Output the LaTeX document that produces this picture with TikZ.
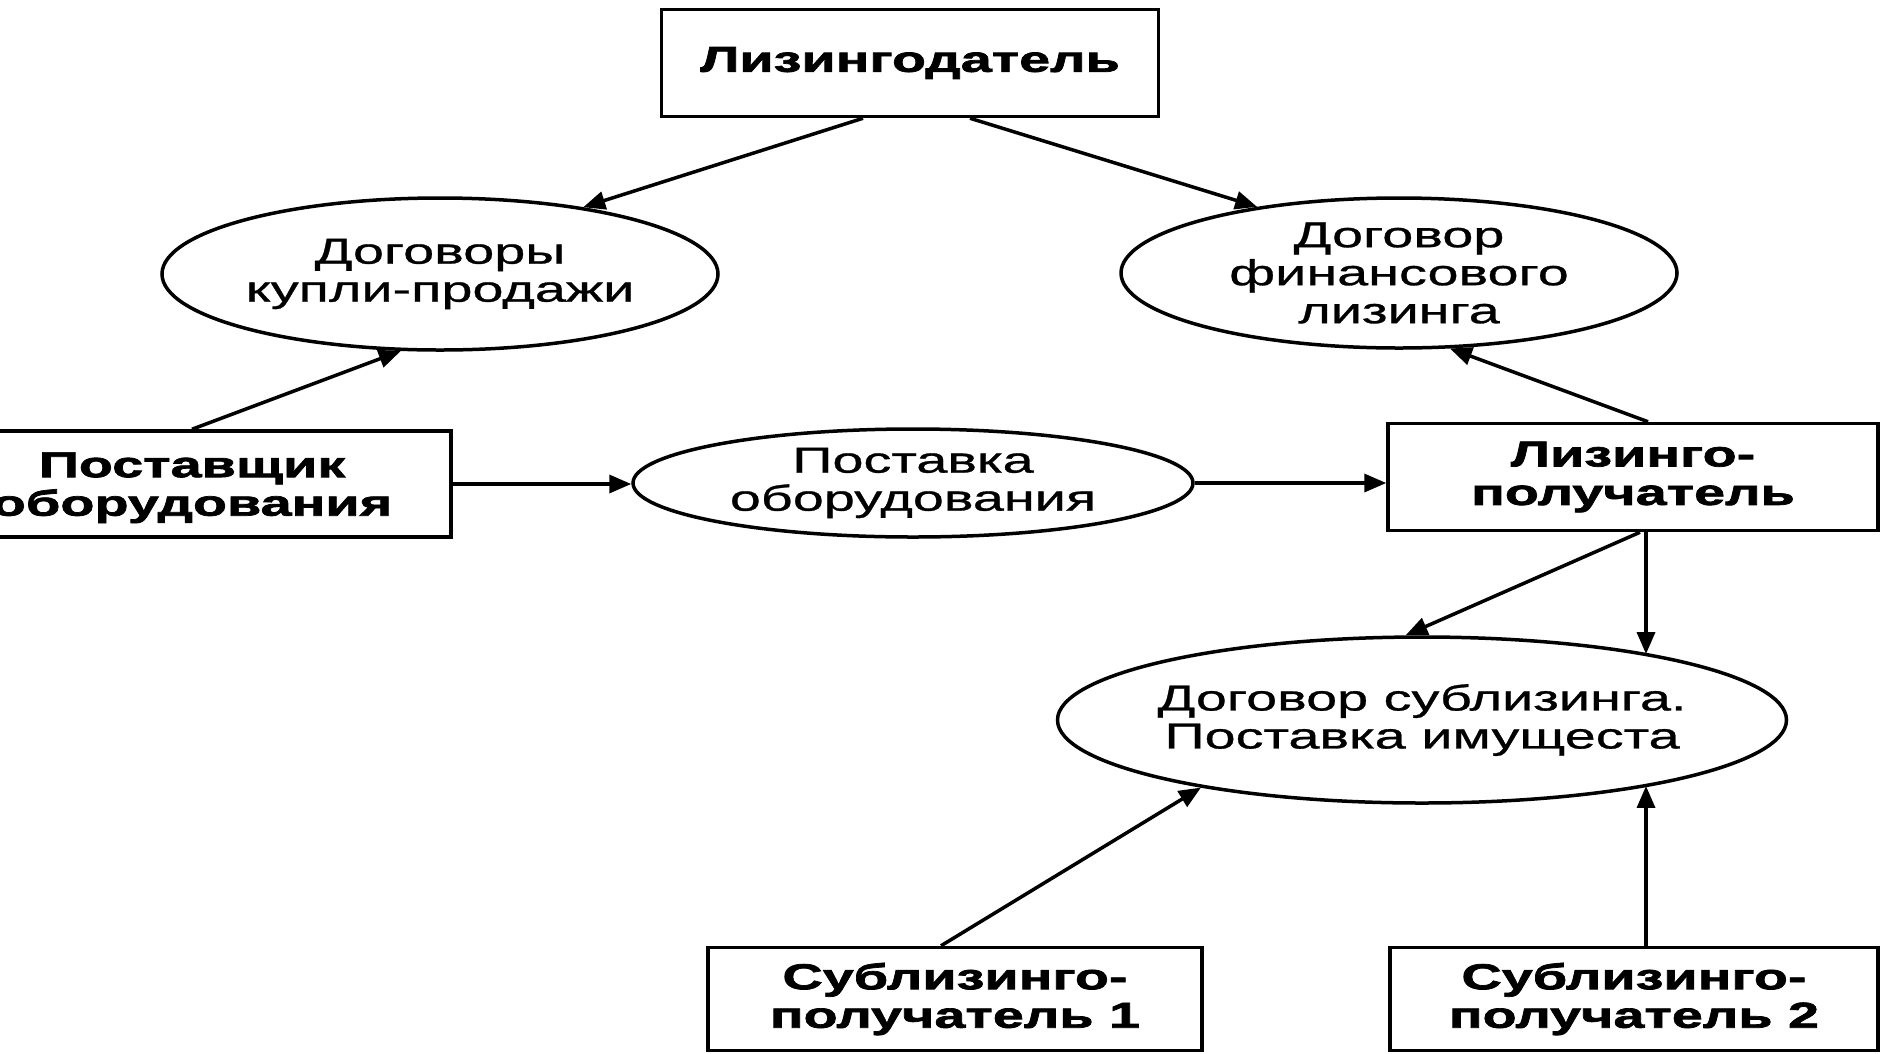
\documentclass[tikz,border=0pt]{standalone}
\usepackage{fontspec}
\usetikzlibrary{arrows.meta,shapes.geometric,calc}
\newfontfamily\boxfont[FakeStretch=1.55,FakeBold=2]{Liberation Sans Bold}
\newfontfamily\ellfont[FakeStretch=1.55,FakeBold=0.8]{Liberation Sans}
\begin{document}
\begin{tikzpicture}[x=1pt,y=-1pt,
  box/.style={draw,line width=3.5pt,rectangle,inner sep=0pt,align=center,
    font=\boxfont\fontsize{36}{38.5}\selectfont},
  ell/.style={draw,line width=3.5pt,ellipse,inner sep=0pt},
  elltext/.style={align=center,inner sep=0pt,font=\ellfont\fontsize{36}{38}\selectfont},
  arr/.style={line width=3.5pt,-{Triangle[length=22pt,width=18pt]}}]
\fill[white] (0,0) rectangle (1884,1053);
\clip (0,0) rectangle (1884,1053);

\node[box,minimum width=497pt,minimum height=107pt] (ld) at (910,63) {Лизингодатель};
\node[ell,minimum width=556pt,minimum height=152pt,
  label={[elltext]center:Договоры\\купли-продажи}] (dkp) at (440,274) {};
\node[ell,minimum width=556pt,minimum height=150pt,
  label={[elltext]center:Договор\\финансового\\лизинга}] (dfl) at (1399,273) {};
\node[box,minimum width=518pt,minimum height=106pt,text depth=0pt] (po) at (192,484) {Поставщик\\оборудования};
\node[ell,minimum width=560pt,minimum height=108pt,
  label={[elltext]center:Поставка\\оборудования}] (pob) at (913,483) {};
\node[box,minimum width=490pt,minimum height=107pt] (lp) at (1633,477) {Лизинго-\\получатель};
\node[ell,minimum width=729pt,minimum height=166pt,
  label={[elltext]center:Договор сублизинга.\\Поставка имущеста}] (dsub) at (1422,720) {};
\node[box,minimum width=494pt,minimum height=103pt] (s1) at (955,999) {Сублизинго-\\получатель 1};
\node[box,minimum width=488pt,minimum height=103pt] (s2) at (1634,999) {Сублизинго-\\получатель 2};

\draw[arr] ($(ld.south)+(-47,0)$) -- (dkp.25);
\draw[arr] ($(ld.south)+(60,0)$) -- (dfl.155);
\draw[arr] (po.north) -- (dkp.243);
\draw[arr] (po.east) -- (po.east -| pob.west);
\draw[arr] (pob.east) -- (pob.east -| lp.west);
\draw[arr] ($(lp.north)+(15,0)$) -- (dfl.304);
\draw[arr] ($(lp.south)+(7,0)$) -- (dsub.101);
\coordinate (v1) at ($(lp.south)+(13,0)$);
\draw[arr] (v1) -- (v1 |- dsub.16);
\draw[arr] ($(s1.north)+(-14,0)$) -- (dsub.197);
\coordinate (v2) at ($(s2.north)+(12,0)$);
\draw[arr] (v2) -- (v2 |- dsub.344);
\end{tikzpicture}
\end{document}
